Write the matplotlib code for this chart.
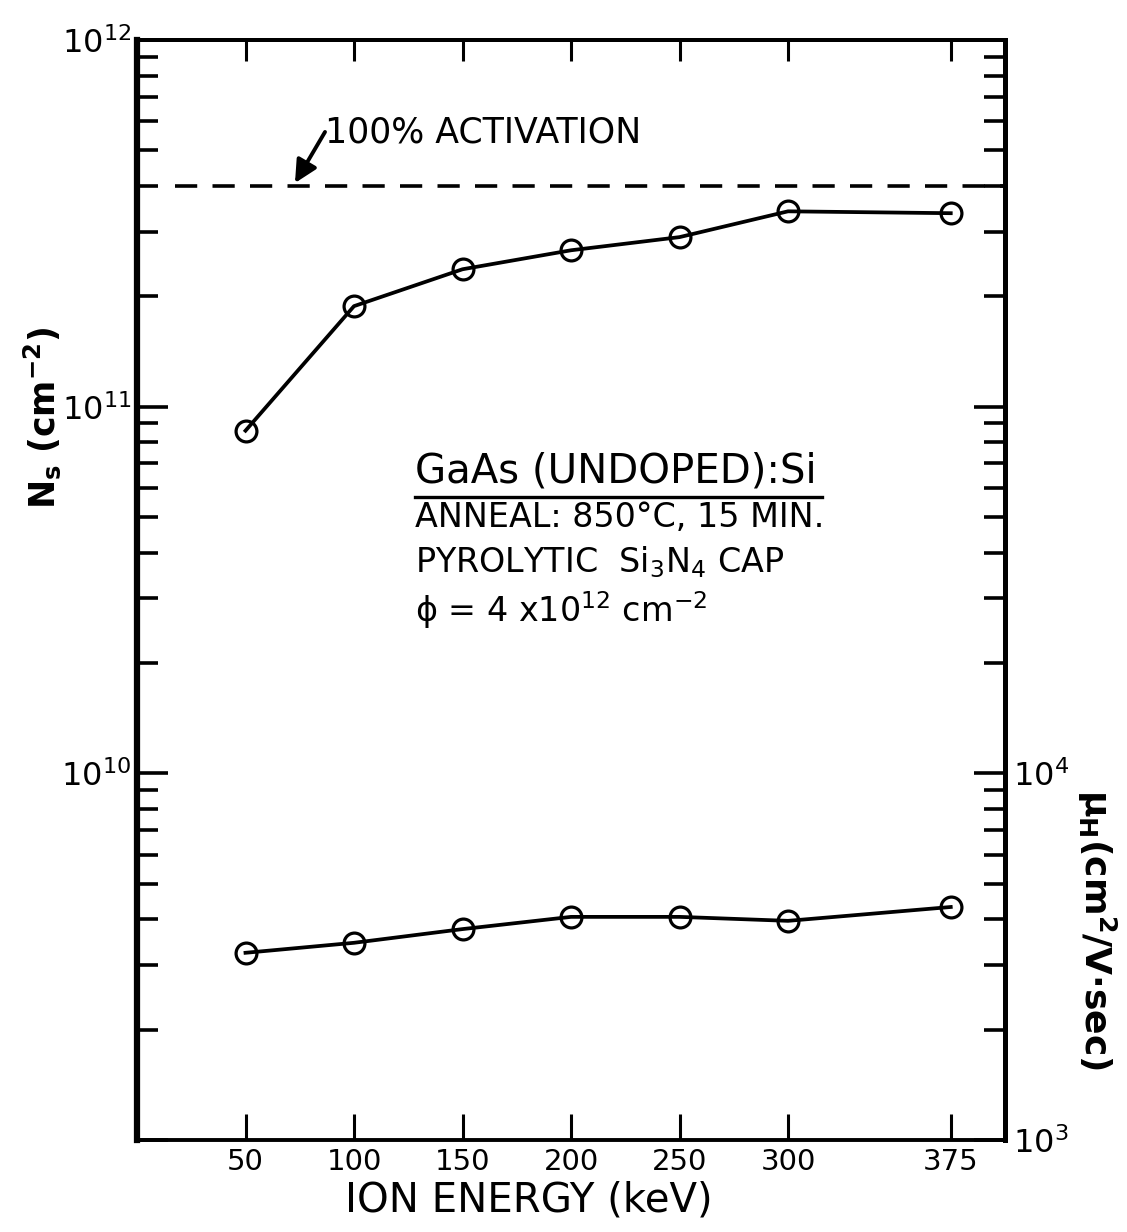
import matplotlib
matplotlib.use("Agg")
import numpy as np
import matplotlib.pyplot as plt
from matplotlib.ticker import LogLocator, FuncFormatter, NullFormatter
from matplotlib.lines import Line2D

# Implant energies (keV) and measured sheet quantities
ion_energy_kev = [50, 100, 150, 200, 250, 300, 375]
sheet_carrier_cm2 = [8.6e10, 1.88e11, 2.37e11, 2.67e11, 2.90e11, 3.41e11, 3.37e11]
hall_mobility = [3240, 3450, 3760, 4060, 4060, 3960, 4320]
activation_level = 4.0e11
energy_ticks = [50, 100, 150, 200, 250, 300, 375]

plt.rcParams['font.family'] = ['DejaVu Sans']
plt.rcParams['mathtext.fontset'] = 'custom'
plt.rcParams['mathtext.rm'] = 'DejaVu Sans'
plt.rcParams['mathtext.it'] = 'DejaVu Sans:italic'
plt.rcParams['mathtext.bf'] = 'DejaVu Sans:bold'
plt.rcParams['mathtext.default'] = 'regular'
plt.rcParams['lines.scale_dashes'] = False

W, H = 1127, 1232
fig = plt.figure(figsize=(W / 100, H / 100), dpi=100)
ax = fig.add_axes([137 / W, 1 - 1140 / H, 868 / W, 1100 / H])
ax.set_xlim(0, 400)
ax.set_yscale('log')
ax.set_ylim(1e9, 1e12)

mu_ax = ax.twinx()
mu_ax.set_yscale('log')
mu_ax.set_ylim(1e3, 1e6)

line_kw = dict(color='black', lw=2.7, marker='o', ms=15, mfc='none',
               mec='black', mew=2.3, clip_on=False)
ax.plot(ion_energy_kev, sheet_carrier_cm2, **line_kw)
mu_ax.plot(ion_energy_kev, hall_mobility, **line_kw)

# 100 % activation reference
ax.axhline(activation_level, xmin=0.044, xmax=1.0, color='black', lw=2.6,
           dashes=(16, 11))

# Spines
for a in (ax, mu_ax):
    for s in a.spines.values():
        s.set_visible(False)
ax.spines['left'].set_visible(True)
ax.spines['left'].set_linewidth(4.5)
ax.spines['bottom'].set_visible(True)
ax.spines['bottom'].set_linewidth(2.8)
ax.spines['top'].set_visible(True)
ax.spines['top'].set_linewidth(2.8)
mu_ax.spines['right'].set_visible(True)
mu_ax.spines['right'].set_linewidth(3.6)


def decade_label(lo, hi):
    def fmt(v, pos):
        if v < lo or v > hi:
            return ''
        return r'$10^{%d}$' % int(round(np.log10(v)))
    return fmt


# Left axis ticks
ax.yaxis.set_major_locator(LogLocator(base=10, numticks=10))
ax.yaxis.set_minor_locator(LogLocator(base=10, subs=np.arange(2, 10), numticks=100))
ax.yaxis.set_minor_formatter(NullFormatter())
ax.yaxis.set_major_formatter(FuncFormatter(decade_label(5e9, 2e12)))
ax.tick_params(axis='y', which='major', direction='in', length=22, width=2.6,
               labelsize=23, pad=4, left=True, right=False)
ax.tick_params(axis='y', which='minor', direction='in', length=15, width=2.6,
               left=True, right=False)

# Right axis ticks
mu_ax.yaxis.set_major_locator(LogLocator(base=10, numticks=10))
mu_ax.yaxis.set_minor_locator(LogLocator(base=10, subs=np.arange(2, 10), numticks=100))
mu_ax.yaxis.set_minor_formatter(NullFormatter())
mu_ax.yaxis.set_major_formatter(FuncFormatter(decade_label(5e2, 5e4)))
mu_ax.tick_params(axis='y', which='major', direction='in', length=22, width=2.6,
                  labelsize=23, pad=6, right=True, left=False)
mu_ax.tick_params(axis='y', which='minor', direction='in', length=15, width=2.6,
                  right=True, left=False)

# Energy axis
ax.set_xticks(energy_ticks)
ax.set_xticklabels([str(e) for e in energy_ticks])
ax.tick_params(axis='x', which='major', direction='in', length=19, width=2.2,
               labelsize=21, pad=6, top=False)
top = ax.secondary_xaxis('top')
top.set_xticks(energy_ticks)
top.tick_params(direction='in', length=15, width=2.2, labeltop=False)
top.spines['top'].set_linewidth(2.8)

# Axis titles
ax.text(0.451, -0.0364, 'ION ENERGY (keV)', transform=ax.transAxes,
        ha='center', va='top', fontsize=29)
ax.text(-0.1094, 0.6564, r'$\mathbf{N_s\ (cm^{-2})}$', transform=ax.transAxes,
        ha='center', va='center', rotation=90, fontsize=25)
ax.text(1.106, 0.191, r'$\mathbf{\mu_H(cm^2/V{\cdot}sec)}$', transform=ax.transAxes,
        ha='center', va='center', rotation=270, fontsize=26)

# Activation annotation
ax.text(0.2166, 0.9064, '100% ACTIVATION', transform=ax.transAxes,
        ha='left', va='baseline', fontsize=25)
ax.annotate('', xy=(0.182, 0.870), xycoords='axes fraction',
            xytext=(0.2166, 0.9164), textcoords='axes fraction',
            arrowprops=dict(arrowstyle='-|>', color='black', lw=2.8,
                            mutation_scale=34, shrinkA=0, shrinkB=0))

# Sample description block
x0 = 0.3203
ax.text(x0, 0.5973, 'GaAs (UNDOPED):Si', transform=ax.transAxes,
        ha='left', va='baseline', fontsize=29)
ax.add_line(Line2D([x0, 0.789], [0.5845, 0.5845], transform=ax.transAxes,
                   color='black', lw=2.4))
ax.text(x0, 0.5573, 'ANNEAL: 850°C, 15 MIN.', transform=ax.transAxes,
        ha='left', va='baseline', fontsize=24)
ax.text(x0, 0.5164, r'PYROLYTIC  Si$_3$N$_4$ CAP', transform=ax.transAxes,
        ha='left', va='baseline', fontsize=24)
ax.text(x0, 0.4709, r'ϕ = 4 x10$^{12}$ cm$^{-2}$', transform=ax.transAxes,
        ha='left', va='baseline', fontsize=24)

fig.savefig('out.png', dpi=100)
